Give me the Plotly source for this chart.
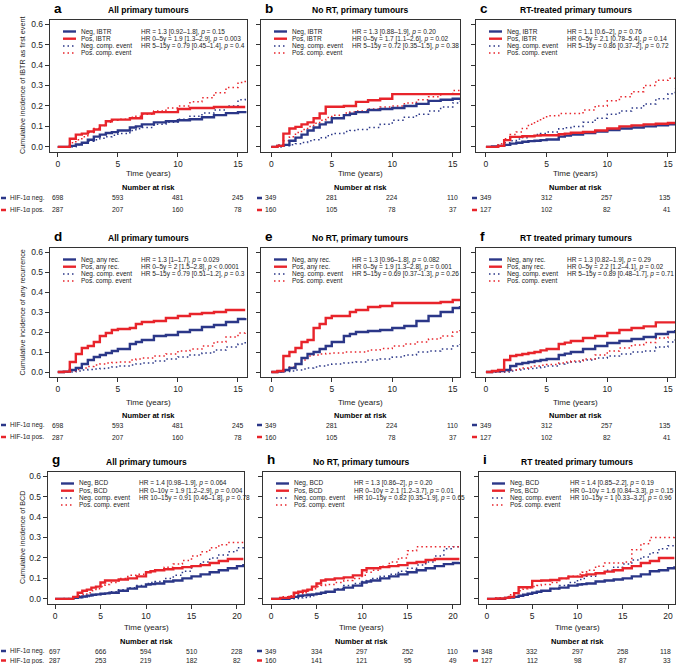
import plotly.graph_objects as go

# time grids (years)
T15 = [0, 0.5, 1, 1.5, 2, 2.5, 3, 3.5, 4, 4.5, 5, 6, 6.5, 7, 8, 9, 10, 11, 12, 13, 14, 15, 15.6]
T20 = [0, 1, 2, 2.5, 3, 3.5, 4, 4.5, 5, 5.5, 6, 7, 8, 9, 10, 10.5, 11, 12, 13, 14, 15, 16, 17, 18, 19, 20, 20.7]

# a - IBTR, all primary tumours
A_NEG = [0, 0, 0.005, 0.012, 0.02, 0.035, 0.05, 0.06, 0.068, 0.072, 0.08, 0.095, 0.1, 0.11, 0.12, 0.125, 0.13, 0.135, 0.145, 0.155, 0.165, 0.17, 0.175]
A_POS = [0, 0, 0.04, 0.06, 0.065, 0.075, 0.085, 0.105, 0.125, 0.133, 0.133, 0.14, 0.14, 0.163, 0.17, 0.17, 0.185, 0.19, 0.19, 0.195, 0.195, 0.195, 0.195]
A_NEG_C = [0, 0, 0, 0.01, 0.02, 0.028, 0.035, 0.042, 0.05, 0.057, 0.065, 0.08, 0.088, 0.095, 0.11, 0.12, 0.135, 0.15, 0.165, 0.18, 0.2, 0.23, 0.25]
A_POS_C = [0, 0, 0.02, 0.035, 0.05, 0.07, 0.09, 0.105, 0.12, 0.13, 0.135, 0.145, 0.15, 0.16, 0.175, 0.19, 0.2, 0.22, 0.24, 0.265, 0.29, 0.315, 0.33]
# b - IBTR, no RT
B_NEG = [0, 0.005, 0.01, 0.03, 0.045, 0.06, 0.08, 0.095, 0.11, 0.12, 0.14, 0.155, 0.162, 0.17, 0.18, 0.185, 0.19, 0.2, 0.21, 0.225, 0.23, 0.235, 0.24]
B_POS = [0, 0.005, 0.065, 0.09, 0.098, 0.11, 0.12, 0.14, 0.163, 0.196, 0.196, 0.2, 0.2, 0.22, 0.228, 0.235, 0.258, 0.258, 0.258, 0.258, 0.258, 0.258, 0.258]
B_NEG_C = [0, 0, 0.005, 0.01, 0.015, 0.022, 0.03, 0.035, 0.045, 0.055, 0.065, 0.075, 0.08, 0.085, 0.095, 0.11, 0.13, 0.145, 0.16, 0.175, 0.195, 0.215, 0.225]
B_POS_C = [0, 0.01, 0.03, 0.05, 0.07, 0.085, 0.1, 0.115, 0.13, 0.143, 0.155, 0.165, 0.17, 0.175, 0.185, 0.195, 0.2, 0.215, 0.23, 0.245, 0.26, 0.275, 0.285]
# c - IBTR, RT treated
C_NEG = [0, 0.002, 0.005, 0.01, 0.016, 0.02, 0.025, 0.028, 0.03, 0.033, 0.036, 0.05, 0.055, 0.06, 0.068, 0.075, 0.082, 0.09, 0.095, 0.1, 0.105, 0.11, 0.115]
C_POS = [0, 0, 0.005, 0.033, 0.049, 0.049, 0.052, 0.052, 0.055, 0.057, 0.057, 0.062, 0.065, 0.069, 0.073, 0.08, 0.09, 0.1, 0.105, 0.11, 0.113, 0.117, 0.117]
C_NEG_C = [0, 0, 0.005, 0.02, 0.03, 0.038, 0.045, 0.052, 0.06, 0.066, 0.073, 0.088, 0.094, 0.1, 0.12, 0.14, 0.16, 0.175, 0.19, 0.21, 0.235, 0.26, 0.285]
C_POS_C = [0, 0, 0.015, 0.04, 0.06, 0.073, 0.09, 0.11, 0.125, 0.14, 0.152, 0.163, 0.163, 0.163, 0.18, 0.2, 0.225, 0.245, 0.27, 0.3, 0.325, 0.335, 0.35]
# d - any recurrence, all
D_NEG = [0, 0.002, 0.01, 0.02, 0.04, 0.06, 0.075, 0.085, 0.095, 0.105, 0.115, 0.14, 0.15, 0.16, 0.18, 0.185, 0.2, 0.21, 0.225, 0.235, 0.25, 0.265, 0.27]
D_POS = [0, 0.002, 0.05, 0.09, 0.12, 0.13, 0.15, 0.18, 0.195, 0.21, 0.215, 0.22, 0.24, 0.25, 0.255, 0.27, 0.28, 0.29, 0.295, 0.3, 0.31, 0.31, 0.31]
D_NEG_C = [0, 0, 0, 0.005, 0.01, 0.012, 0.015, 0.018, 0.02, 0.025, 0.03, 0.035, 0.04, 0.045, 0.055, 0.065, 0.075, 0.085, 0.095, 0.11, 0.125, 0.14, 0.15]
D_POS_C = [0, 0, 0.005, 0.012, 0.02, 0.028, 0.035, 0.04, 0.045, 0.048, 0.05, 0.06, 0.065, 0.07, 0.08, 0.09, 0.105, 0.115, 0.13, 0.15, 0.175, 0.195, 0.205]
# e - any recurrence, no RT
E_NEG = [0, 0.002, 0.01, 0.02, 0.04, 0.07, 0.09, 0.1, 0.115, 0.13, 0.15, 0.18, 0.19, 0.2, 0.205, 0.21, 0.22, 0.23, 0.255, 0.28, 0.3, 0.32, 0.33]
E_POS = [0, 0.005, 0.08, 0.1, 0.12, 0.15, 0.16, 0.22, 0.24, 0.27, 0.28, 0.28, 0.3, 0.31, 0.325, 0.33, 0.345, 0.345, 0.345, 0.345, 0.35, 0.36, 0.36]
E_NEG_C = [0, 0, 0.002, 0.005, 0.01, 0.015, 0.02, 0.025, 0.03, 0.035, 0.04, 0.045, 0.048, 0.05, 0.06, 0.065, 0.075, 0.085, 0.1, 0.105, 0.115, 0.13, 0.14]
E_POS_C = [0, 0.005, 0.01, 0.025, 0.04, 0.06, 0.08, 0.085, 0.09, 0.093, 0.095, 0.1, 0.1, 0.1, 0.11, 0.117, 0.13, 0.14, 0.15, 0.165, 0.18, 0.2, 0.21]
# f - any recurrence, RT treated
F_NEG = [0, 0.003, 0.005, 0.01, 0.03, 0.04, 0.045, 0.05, 0.055, 0.06, 0.065, 0.085, 0.092, 0.1, 0.115, 0.13, 0.145, 0.155, 0.165, 0.175, 0.19, 0.2, 0.21]
F_POS = [0, 0.005, 0.01, 0.06, 0.08, 0.085, 0.09, 0.095, 0.1, 0.108, 0.115, 0.14, 0.147, 0.155, 0.17, 0.18, 0.195, 0.21, 0.22, 0.228, 0.248, 0.248, 0.248]
F_NEG_C = [0, 0, 0, 0, 0.005, 0.01, 0.015, 0.017, 0.02, 0.025, 0.03, 0.04, 0.045, 0.05, 0.06, 0.07, 0.08, 0.09, 0.1, 0.105, 0.125, 0.15, 0.175]
F_POS_C = [0, 0, 0, 0.005, 0.01, 0.015, 0.02, 0.025, 0.03, 0.034, 0.037, 0.045, 0.05, 0.055, 0.065, 0.085, 0.105, 0.12, 0.135, 0.147, 0.17, 0.2, 0.21]
# g - BCD, all
G_NEG = [0, 0, 0.005, 0.008, 0.012, 0.016, 0.02, 0.022, 0.025, 0.027, 0.03, 0.04, 0.05, 0.06, 0.07, 0.072, 0.075, 0.085, 0.09, 0.1, 0.11, 0.12, 0.13, 0.14, 0.15, 0.16, 0.17]
G_POS = [0, 0, 0.01, 0.03, 0.04, 0.045, 0.055, 0.06, 0.08, 0.09, 0.09, 0.095, 0.1, 0.11, 0.13, 0.135, 0.14, 0.145, 0.15, 0.155, 0.16, 0.165, 0.175, 0.185, 0.195, 0.195, 0.195]
G_NEG_C = [0, 0, 0.005, 0.007, 0.01, 0.012, 0.015, 0.02, 0.025, 0.03, 0.035, 0.045, 0.055, 0.065, 0.075, 0.08, 0.085, 0.1, 0.115, 0.135, 0.16, 0.18, 0.2, 0.215, 0.23, 0.25, 0.265]
G_POS_C = [0, 0.002, 0.01, 0.015, 0.02, 0.03, 0.04, 0.05, 0.06, 0.07, 0.08, 0.1, 0.115, 0.12, 0.13, 0.135, 0.14, 0.155, 0.17, 0.188, 0.21, 0.23, 0.25, 0.265, 0.275, 0.275, 0.28]
# h - BCD, no RT
H_NEG = [0, 0, 0.005, 0.01, 0.015, 0.017, 0.02, 0.022, 0.025, 0.03, 0.035, 0.045, 0.055, 0.065, 0.08, 0.085, 0.09, 0.1, 0.11, 0.12, 0.13, 0.14, 0.15, 0.16, 0.17, 0.175, 0.18]
H_POS = [0, 0.005, 0.01, 0.03, 0.035, 0.04, 0.045, 0.06, 0.075, 0.09, 0.095, 0.1, 0.105, 0.115, 0.14, 0.15, 0.15, 0.155, 0.16, 0.165, 0.175, 0.18, 0.19, 0.195, 0.195, 0.195, 0.195]
H_NEG_C = [0, 0, 0, 0.002, 0.005, 0.007, 0.01, 0.015, 0.025, 0.03, 0.035, 0.05, 0.065, 0.075, 0.085, 0.09, 0.1, 0.11, 0.12, 0.135, 0.15, 0.165, 0.18, 0.21, 0.245, 0.255, 0.255]
H_POS_C = [0, 0.01, 0.015, 0.02, 0.025, 0.03, 0.04, 0.05, 0.06, 0.065, 0.07, 0.08, 0.09, 0.1, 0.115, 0.13, 0.14, 0.16, 0.18, 0.2, 0.235, 0.255, 0.255, 0.255, 0.255, 0.255, 0.26]
# i - BCD, RT treated
I_NEG = [0, 0, 0.005, 0.007, 0.01, 0.015, 0.02, 0.025, 0.03, 0.035, 0.04, 0.05, 0.055, 0.065, 0.07, 0.072, 0.075, 0.085, 0.09, 0.095, 0.1, 0.11, 0.12, 0.135, 0.14, 0.15, 0.16]
I_POS = [0, 0.002, 0.005, 0.01, 0.028, 0.057, 0.057, 0.057, 0.088, 0.088, 0.09, 0.092, 0.1, 0.109, 0.109, 0.115, 0.12, 0.125, 0.133, 0.14, 0.15, 0.16, 0.175, 0.185, 0.2, 0.2, 0.2]
I_NEG_C = [0, 0, 0.005, 0.007, 0.01, 0.015, 0.02, 0.025, 0.03, 0.035, 0.04, 0.05, 0.065, 0.08, 0.095, 0.1, 0.11, 0.125, 0.14, 0.155, 0.17, 0.19, 0.205, 0.225, 0.245, 0.26, 0.27]
I_POS_C = [0, 0.005, 0.01, 0.02, 0.03, 0.04, 0.05, 0.055, 0.06, 0.065, 0.07, 0.08, 0.1, 0.11, 0.12, 0.13, 0.14, 0.16, 0.175, 0.175, 0.18, 0.24, 0.27, 0.3, 0.3, 0.3, 0.31]

# numbers at risk
TICKS15 = [0, 5, 10, 15]
TICKS20 = [0, 5, 10, 15, 20]
RISK_ALL_NEG = [698, 593, 481, 245]
RISK_ALL_POS = [287, 207, 160, 78]
RISK_NORT_NEG = [349, 281, 224, 110]
RISK_NORT_POS = [160, 105, 78, 37]
RISK_RT_NEG = [349, 312, 257, 135]
RISK_RT_POS = [127, 102, 82, 41]
RISK_BCD_ALL_NEG = [697, 666, 594, 510, 228]
RISK_BCD_ALL_POS = [287, 253, 219, 182, 82]
RISK_BCD_NORT_NEG = [349, 334, 297, 252, 110]
RISK_BCD_NORT_POS = [160, 141, 121, 95, 49]
RISK_BCD_RT_NEG = [348, 332, 297, 258, 118]
RISK_BCD_RT_POS = [127, 112, 98, 87, 33]

TITLES = ["All primary tumours", "No RT, primary tumours", "RT-treated primary tumours",
          "All primary tumours", "No RT, primary tumours", "RT treated primary tumours",
          "All primary tumours", "No RT, primary tumours", "RT treated primary tumours"]
LETTERS = ["a", "b", "c", "d", "e", "f", "g", "h", "i"]
ENDPOINTS = ["IBTR", "any rec.", "BCD"]
YTITLES = ["Cumulative incidence of IBTR as first event",
           "Cumulative incidence of any recurrence",
           "Cumulative incidence of BCD"]
HR_TEXT = [
    ["HR = 1.3 [0.92–1.8], <i>p</i> = 0.15", "HR 0–5y = 1.9 [1.3–2.9], <i>p</i> = 0.003", "HR 5–15y = 0.79 [0.45–1.4], <i>p</i> = 0.4"],
    ["HR = 1.3 [0.88–1.9], <i>p</i> = 0.20", "HR 0–5y = 1.7 [1.1–2.6], <i>p</i> = 0.02", "HR 5–15y = 0.72 [0.35–1.5], <i>p</i> = 0.38"],
    ["HR = 1.1 [0.6–2], <i>p</i> = 0.76", "HR 0–5y = 2.1 [0.78–5.4], <i>p</i> = 0.14", "HR 5–15y = 0.86 [0.37–2], <i>p</i> = 0.72"],
    ["HR = 1.3 [1–1.7], <i>p</i> = 0.029", "HR 0–5y = 2 [1.5–2.8], <i>p</i> &lt; 0.0001", "HR 5–15y = 0.79 [0.51–1.2], <i>p</i> = 0.3"],
    ["HR = 1.3 [0.96–1.8], <i>p</i> = 0.082", "HR 0–5y = 1.9 [1.3–2.8], <i>p</i> = 0.001", "HR 5–15y = 0.69 [0.37–1.3], <i>p</i> = 0.26"],
    ["HR = 1.3 [0.82–1.9], <i>p</i> = 0.29", "HR 0–5y = 2.2 [1.2–4.1], <i>p</i> = 0.02", "HR 5–15y = 0.89 [0.48–1.7], <i>p</i> = 0.71"],
    ["HR = 1.4 [0.98–1.9], <i>p</i> = 0.064", "HR 0–10y = 1.9 [1.2–2.9], <i>p</i> = 0.004", "HR 10–15y = 0.91 [0.46–1.8], <i>p</i> = 0.78"],
    ["HR = 1.3 [0.86–2], <i>p</i> = 0.20", "HR 0–10y = 2.1 [1.2–3.7], <i>p</i> = 0.01", "HR 10–15y = 0.82 [0.35–1.9], <i>p</i> = 0.65"],
    ["HR = 1.4 [0.85–2.2], <i>p</i> = 0.19", "HR 0–10y = 1.6 [0.84–3.3], <i>p</i> = 0.15", "HR 10–15y = 1 [0.33–3.2], <i>p</i> = 0.96"],
]

CURVES = [
    (T15, A_NEG, A_POS, A_NEG_C, A_POS_C), (T15, B_NEG, B_POS, B_NEG_C, B_POS_C), (T15, C_NEG, C_POS, C_NEG_C, C_POS_C),
    (T15, D_NEG, D_POS, D_NEG_C, D_POS_C), (T15, E_NEG, E_POS, E_NEG_C, E_POS_C), (T15, F_NEG, F_POS, F_NEG_C, F_POS_C),
    (T20, G_NEG, G_POS, G_NEG_C, G_POS_C), (T20, H_NEG, H_POS, H_NEG_C, H_POS_C), (T20, I_NEG, I_POS, I_NEG_C, I_POS_C),
]
RISKS = [
    (RISK_ALL_NEG, RISK_ALL_POS), (RISK_NORT_NEG, RISK_NORT_POS), (RISK_RT_NEG, RISK_RT_POS),
    (RISK_ALL_NEG, RISK_ALL_POS), (RISK_NORT_NEG, RISK_NORT_POS), (RISK_RT_NEG, RISK_RT_POS),
    (RISK_BCD_ALL_NEG, RISK_BCD_ALL_POS), (RISK_BCD_NORT_NEG, RISK_BCD_NORT_POS), (RISK_BCD_RT_NEG, RISK_BCD_RT_POS),
]

NAVY = "#2B3788"
RED = "#E8242B"
FONT = "Arial, Liberation Sans, sans-serif"
W, H = 676, 664

# panel boxes in pixels
ROWS_Y = [(20, 152), (248, 377), (472, 604)]
COLS_X = [[(50, 247), (261, 460), (476, 675)],
          [(50, 247), (261, 460), (476, 675)],
          [(48, 244), (263, 460), (479, 675)]]
# x ranges per column (short follow-up rows, long follow-up row)
XR15 = [[-0.65, 15.75], [-0.85, 15.6], [-0.82, 15.58]]
XR20 = [[-0.77, 20.77], [-0.88, 20.77], [-0.88, 20.77]]
# offsets below each box: x title, "Number at risk", neg row, pos row
BELOW = [(22, 36, 46, 58), (25, 38, 48, 60), (23, 37, 47, 56.5)]
# risk-table colour key for columns 2 and 3, relative to box left
DASH = [(-4, 1), (-4, 1), (-6, -1)]


def px(x):
    return x / W


def py(y):
    return 1 - y / H


fig = go.Figure()
annotations = []
shapes = []
layout_axes = {}

for k in range(9):
    r, c = divmod(k, 3)
    n = "" if k == 0 else str(k + 1)
    x0, x1 = COLS_X[r][c]
    y0, y1 = ROWS_Y[r]
    t, neg, pos, negc, posc = CURVES[k]
    long = r == 2
    ticks = TICKS20 if long else TICKS15
    xr = XR20[c] if long else XR15[c]

    for vals, col, solid in [(negc, NAVY, False), (posc, RED, False), (neg, NAVY, True), (pos, RED, True)]:
        fig.add_trace(go.Scatter(
            x=t, y=vals, mode="lines", showlegend=False, hoverinfo="skip",
            line=dict(color=col, width=2.4 if solid else 1.5, shape="hv",
                      dash="solid" if solid else "1.5px,3px"),
            xaxis="x" + n, yaxis="y" + n))

    axis_style = dict(showline=True, mirror=True, linecolor="#333333", linewidth=1.4,
                      ticks="outside", ticklen=4, tickwidth=1, tickcolor="#333333",
                      showgrid=False, zeroline=False,
                      tickfont=dict(family=FONT, size=8.5, color="#222222"))
    layout_axes["xaxis" + n] = dict(axis_style, domain=[px(x0), px(x1)], anchor="y" + n,
                                    range=xr, tickvals=ticks)
    layout_axes["yaxis" + n] = dict(axis_style, domain=[py(y1), py(y0)], anchor="x" + n,
                                    range=[-0.025, 0.62],
                                    tickvals=[0, 0.1, 0.2, 0.3, 0.4, 0.5, 0.6],
                                    tickformat=".1f", showticklabels=(c == 0))

    cx = (x0 + x1) / 2
    # letter and title
    annotations.append(dict(text="<b>" + LETTERS[k] + "</b>", x=px(x0 + 2), y=py(y0 - 12),
                            xref="paper", yref="paper", xanchor="left", yanchor="middle",
                            showarrow=False, font=dict(family=FONT, size=13.5, color="black")))
    annotations.append(dict(text="<b>" + TITLES[k] + "</b>", x=px(cx), y=py(y0 - 10),
                            xref="paper", yref="paper", xanchor="center", yanchor="middle",
                            showarrow=False, font=dict(family=FONT, size=8.5, color="black")))
    # legend inside panel
    ep = ENDPOINTS[r]
    labels = ["Neg, " + ep, "Pos, " + ep, "Neg. comp. event", "Pos. comp. event"]
    styles = [(NAVY, 2.4, "solid"), (RED, 2.4, "solid"), (NAVY, 1.5, "1.5px,3px"), (RED, 1.5, "1.5px,3px")]
    for i in range(4):
        yy = y0 + 11.5 + i * 7.2
        colr, wd, ds = styles[i]
        shapes.append(dict(type="line", xref="paper", yref="paper",
                           x0=px(x0 + 13), x1=px(x0 + 26), y0=py(yy), y1=py(yy),
                           line=dict(color=colr, width=wd, dash=ds)))
        annotations.append(dict(text=labels[i], x=px(x0 + 29), y=py(yy), xref="paper", yref="paper",
                                xanchor="left", yanchor="middle", showarrow=False,
                                font=dict(family=FONT, size=6.5, color="#222222")))
    for i in range(3):
        yy = y0 + 11.5 + i * 7.2
        annotations.append(dict(text=HR_TEXT[k][i], x=px(x0 + 89), y=py(yy), xref="paper", yref="paper",
                                xanchor="left", yanchor="middle", showarrow=False,
                                font=dict(family=FONT, size=6.5, color="#222222")))
    # axis titles
    dt, dn, dneg, dpos = BELOW[r]
    annotations.append(dict(text="Time (years)", x=px(cx), y=py(y1 + dt), xref="paper", yref="paper",
                            xanchor="center", yanchor="middle", showarrow=False,
                            font=dict(family=FONT, size=8, color="#222222")))
    if c == 0:
        annotations.append(dict(text=YTITLES[r], x=px(22), y=py((y0 + y1) / 2), xref="paper", yref="paper",
                                xanchor="center", yanchor="middle", showarrow=False, textangle=-90,
                                font=dict(family=FONT, size=7.2, color="#222222")))
    # numbers at risk
    annotations.append(dict(text="<b>Number at risk</b>", x=px(cx), y=py(y1 + dn), xref="paper", yref="paper",
                            xanchor="center", yanchor="middle", showarrow=False,
                            font=dict(family=FONT, size=7.5, color="black")))
    rneg, rpos = RISKS[k]
    for vals, colr, lab, dy in [(rneg, NAVY, "HIF-1α neg.", dneg), (rpos, RED, "HIF-1α pos.", dpos)]:
        yy = y1 + dy
        if c == 0:
            shapes.append(dict(type="line", xref="paper", yref="paper", x0=px(1), x1=px(6),
                               y0=py(yy), y1=py(yy), line=dict(color=colr, width=2.5)))
            annotations.append(dict(text=lab, x=px(8), y=py(yy), xref="paper", yref="paper",
                                    xanchor="left", yanchor="middle", showarrow=False,
                                    font=dict(family=FONT, size=6.5, color="#222222")))
        else:
            d0, d1 = DASH[r]
            shapes.append(dict(type="line", xref="paper", yref="paper", x0=px(x0 + d0), x1=px(x0 + d1),
                               y0=py(yy), y1=py(yy), line=dict(color=colr, width=2.5)))
        for tv, v in zip(ticks, vals):
            anchor = "right" if (c == 2 and tv == ticks[-1]) else "center"
            annotations.append(dict(text=str(v), x=tv, y=py(yy), xref="x" + n, yref="paper",
                                    xanchor=anchor, xshift=5 if anchor == "right" else 0,
                                    yanchor="middle", showarrow=False,
                                    font=dict(family=FONT, size=6.8, color="#222222")))

fig.update_layout(width=W, height=H, margin=dict(l=0, r=0, t=0, b=0),
                  paper_bgcolor="white", plot_bgcolor="white",
                  annotations=annotations, shapes=shapes, **layout_axes)
# drop the default body margin so the figure sits at the page origin
fig.write_html("out.html", config={"displayModeBar": False},
               post_script="document.body.style.margin='0px';")
